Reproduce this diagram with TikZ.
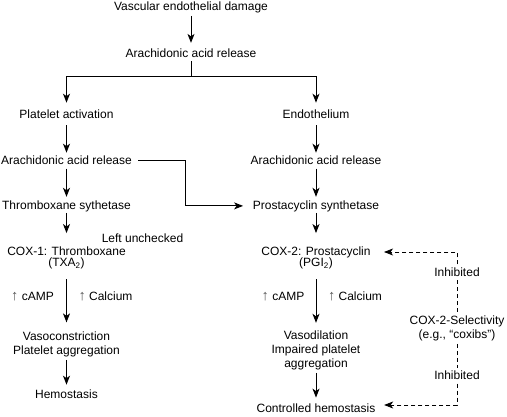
\documentclass[tikz,border=0pt]{standalone}
\usepackage{fontspec}
\setmainfont{Liberation Sans}
\usetikzlibrary{positioning,arrows.meta}
\tikzset{
  lbl/.style  = {align=center, font=\fontsize{12}{14}\selectfont, inner sep=3.3pt},
  link/.style = {line width=1pt},
  dsh/.style  = {line width=0.75pt, dash pattern=on 4pt off 3pt},
}
\newcommand{\uparr}{{\color{black!65}\fontsize{14.5}{14}\selectfont ↑}}

\begin{document}
\begin{tikzpicture}[>={Stealth[length=9pt,width=7pt,inset=2.5pt]}, on grid]
    \useasboundingbox (0,0) rectangle (507pt,-417pt);
    \node [lbl] (dmg) at (191pt,-6.9pt) {Vascular endothelial damage};
    \node [lbl, below=46.4pt of dmg] (aar) {Arachidonic acid release};
    \coordinate [below=23pt of aar] (fork);
    \node [lbl, below left=61.3pt and 124.5pt of aar] (plat) {Platelet activation};
    \node [lbl, right=249.5pt of plat] (endo) {Endothelium};
    \node [lbl, below=46pt of plat] (aarL) {Arachidonic acid release};
    \node [lbl, below=46pt of endo] (aarR) {Arachidonic acid release};
    \node [lbl, below=45.3pt of aarL] (thr) {Thromboxane sythetase};
    \node [lbl, below=45.3pt of aarR] (pro) {Prostacyclin synthetase};
    \coordinate [right=118.5pt of thr] (jog);
    \node [lbl, below=52.2pt of thr] (cox1) {COX-1: Thromboxane\\[-3.5pt](TXA\textsubscript{2})};
    \node [lbl, below=52.2pt of pro] (cox2) {COX-2: Prostacyclin\\[-3.5pt](PGI\textsubscript{2})};
    \node [lbl, above right=19.5pt and 76pt of cox1] (unchk) {Left unchecked};
    \node [lbl, below left=38.4pt and 34pt of cox1] (camp1) {\uparr\ cAMP};
    \node [lbl, below right=38.4pt and 39pt of cox1] (cal1) {\uparr\ Calcium};
    \node [lbl, below left=38.4pt and 33pt of cox2] (camp2) {\uparr\ cAMP};
    \node [lbl, below right=38.4pt and 39pt of cox2] (cal2) {\uparr\ Calcium};
    \node [lbl, below=85.8pt of cox1] (vcon) {Vasoconstriction\\Platelet aggregation};
    \node [lbl, below=91.8pt of cox2] (vdil) {Vasodilation\\Impaired platelet\\aggregation};
    \node [lbl, below=50.7pt of vcon] (hemo) {Hemostasis};
    \node [lbl, below=58.6pt of vdil] (ctrl) {Controlled hemostasis};
    \node [lbl, below right=69.8pt and 141pt of cox2] (sel) {COX-2-Selectivity\\(e.g., “coxibs”)};
    \node [lbl, above=55.6pt of sel] (inh1) {Inhibited};
    \node [lbl, below=47.7pt of sel] (inh2) {Inhibited};
    \coordinate [above=20.3pt of inh1] (topbend);
    \coordinate [below=29.4pt of inh2] (lowbend);
    % solid connectors
    \draw [link,->,shorten >=2.5pt] (dmg) -- (aar);
    \draw [link] (aar) -- (fork);
    \draw [link,->,shorten >=4pt] (fork) -| (plat);
    \draw [link,->,shorten >=4pt] (fork) -| (endo);
    \draw [link,->,shorten <=2.5pt] (plat) -- (aarL);
    \draw [link,->,shorten <=2.5pt] (endo) -- (aarR);
    \draw [link,->] (aarL) -- (thr);
    \draw [link,->] (aarR) -- (pro);
    \draw [link,->,shorten <=2.7pt,shorten >=6.4pt] (aarL) -| (jog) -- (pro);
    \draw [link,->,shorten <=-2pt,shorten >=10.7pt] (thr) -- (cox1);
    \draw [link,->,shorten <=-2pt,shorten >=10.7pt] (pro) -- (cox2);
    \draw [link,->,shorten <=7pt,shorten >=5.4pt] (cox1) -- (vcon);
    \draw [link,->,shorten <=7pt,shorten >=4pt] (cox2) -- (vdil);
    \draw [link,->,shorten >=2pt] (vcon) -- (hemo);
    \draw [link,->,shorten >=3pt] (vdil) -- (ctrl);
    % dashed inhibition lines
    \draw [dsh] (sel) -- (inh1);
    \draw [dsh,->,shorten >=10pt] (inh1) -- (topbend) -- (topbend -| cox2.east);
    \draw [dsh] (sel) -- (inh2);
    \draw [dsh,->,shorten >=5.3pt] (inh2) -- (lowbend) -- (lowbend -| ctrl.east);
\end{tikzpicture}
\end{document}
